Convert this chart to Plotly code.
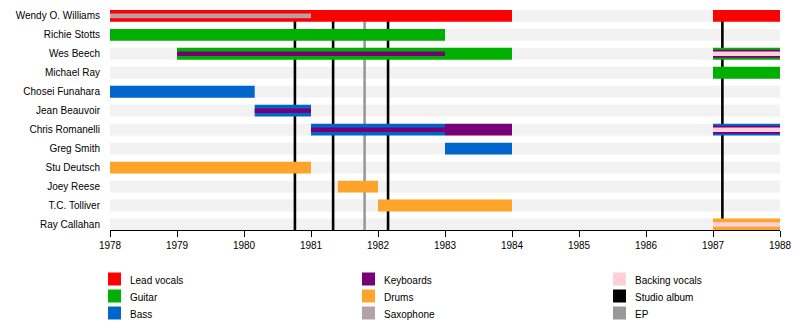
import plotly.graph_objects as go

# Band members, top to bottom
members = [
    "Wendy O. Williams", "Richie Stotts", "Wes Beech", "Michael Ray",
    "Chosei Funahara", "Jean Beauvoir", "Chris Romanelli", "Greg Smith",
    "Stu Deutsch", "Joey Reese", "T.C. Tolliver", "Ray Callahan",
]

# Membership periods (tier 0 = main role, 1 = secondary, 2 = tertiary)
period_member = [
    "Wendy O. Williams", "Wendy O. Williams", "Wendy O. Williams",
    "Richie Stotts",
    "Wes Beech", "Wes Beech", "Wes Beech", "Wes Beech", "Wes Beech",
    "Michael Ray",
    "Chosei Funahara",
    "Jean Beauvoir", "Jean Beauvoir",
    "Chris Romanelli", "Chris Romanelli", "Chris Romanelli",
    "Chris Romanelli", "Chris Romanelli", "Chris Romanelli",
    "Greg Smith",
    "Stu Deutsch", "Joey Reese", "T.C. Tolliver",
    "Ray Callahan", "Ray Callahan",
]
period_role = [
    "Lead vocals", "Lead vocals", "Saxophone",
    "Guitar",
    "Guitar", "Keyboards", "Guitar", "Keyboards", "Backing vocals",
    "Guitar",
    "Bass",
    "Bass", "Keyboards",
    "Bass", "Keyboards", "Keyboards",
    "Bass", "Keyboards", "Backing vocals",
    "Bass",
    "Drums", "Drums", "Drums",
    "Drums", "Backing vocals",
]
period_start = [
    1978, 1987, 1978,
    1978,
    1979, 1979, 1987, 1987, 1987,
    1987,
    1978,
    1980.16, 1980.16,
    1981, 1981, 1983,
    1987, 1987, 1987,
    1983,
    1978, 1981.4, 1982,
    1987, 1987,
]
period_end = [
    1984, 1988, 1981,
    1983,
    1984, 1983, 1988, 1988, 1988,
    1988,
    1980.16,
    1981, 1981,
    1983, 1983, 1984,
    1988, 1988, 1988,
    1984,
    1981, 1982, 1984,
    1988, 1988,
]
period_tier = [
    0, 0, 2,
    0,
    0, 2, 0, 1, 2,
    0,
    0,
    0, 2,
    0, 2, 0,
    0, 1, 2,
    0,
    0, 0, 0,
    0, 2,
]

# Release dates
studio_albums = [1980.76, 1981.33, 1982.15, 1987.14]
eps = [1981.80]

year_start, year_end = 1978, 1988
years = list(range(year_start, year_end + 1))

# Legend columns
legend_columns = [
    ["Lead vocals", "Guitar", "Bass"],
    ["Keyboards", "Drums", "Saxophone"],
    ["Backing vocals", "Studio album", "EP"],
]

colors = {
    "Lead vocals": "#ff0000",
    "Guitar": "#00b000",
    "Bass": "#0066cc",
    "Keyboards": "#760077",
    "Drums": "#ffa42a",
    "Saxophone": "#b3a3a8",
    "Backing vocals": "#ffd0d8",
    "Studio album": "#000000",
    "EP": "#999999",
}

# Figure geometry (pixels)
W, H = 800, 330
ML, MR, MT, MB = 110, 20, 6, 100
plot_w, plot_h = W - ML - MR, H - MT - MB

tier_width = [0.625, 0.42, 0.24]
band_half = tier_width[0] / 2
y_top, y_bottom = -0.52, len(members) - 1 + 0.29

fig = go.Figure()

for tier in range(3):
    for role in ["Lead vocals", "Guitar", "Bass", "Keyboards", "Drums",
                 "Saxophone", "Backing vocals"]:
        idx = [i for i in range(len(period_member))
               if period_tier[i] == tier and period_role[i] == role]
        if not idx:
            continue
        fig.add_trace(go.Bar(
            orientation="h",
            y=[period_member[i] for i in idx],
            base=[period_start[i] for i in idx],
            x=[period_end[i] - period_start[i] for i in idx],
            width=[tier_width[tier]] * len(idx),
            marker=dict(color=colors[role], line=dict(width=0)),
            name=role,
            showlegend=False,
            hoverinfo="skip",
        ))

# Light row bands behind each member
for i in range(len(members)):
    fig.add_shape(type="rect", xref="x", yref="y",
                  x0=year_start, x1=year_end,
                  y0=i - band_half, y1=i + band_half,
                  fillcolor="#f2f2f2", line=dict(width=0), layer="below")

# Release lines
for d in studio_albums:
    fig.add_shape(type="line", xref="x", yref="y", x0=d, x1=d,
                  y0=0, y1=y_bottom,
                  line=dict(color=colors["Studio album"], width=2.6),
                  layer="below")
for d in eps:
    fig.add_shape(type="line", xref="x", yref="y", x0=d, x1=d,
                  y0=0, y1=y_bottom,
                  line=dict(color=colors["EP"], width=2.6),
                  layer="below")

font = "Liberation Sans, Arial, sans-serif"


def px_x(px):
    return (px - ML) / plot_w


def px_y(py):
    return (H - MB - py) / plot_h


# Three-column legend under the chart
col_left = [108, 362, 613]
row_mid = [279, 296, 313]
sw = 13
for c, labels in enumerate(legend_columns):
    for r, label in enumerate(labels):
        x0 = col_left[c]
        yc = row_mid[r]
        fig.add_shape(type="rect", xref="paper", yref="paper",
                      x0=px_x(x0), x1=px_x(x0 + sw),
                      y0=px_y(yc + sw / 2), y1=px_y(yc - sw / 2),
                      fillcolor=colors[label], line=dict(width=0))
        fig.add_annotation(xref="paper", yref="paper",
                           x=px_x(x0 + 20), y=px_y(yc + 1),
                           xanchor="left", yanchor="middle",
                           text=label, showarrow=False,
                           font=dict(family=font, size=10, color="#000000"))

fig.update_layout(
    width=W, height=H,
    margin=dict(l=ML, r=MR, t=MT, b=MB),
    paper_bgcolor="white", plot_bgcolor="white",
    barmode="overlay",
    font=dict(family=font, size=10, color="#000000"),
    showlegend=False,
    xaxis=dict(
        range=[year_start, year_end],
        tickvals=years, ticktext=[str(y) for y in years],
        showgrid=False, zeroline=False,
        showline=True, linecolor="#000000", linewidth=1,
        ticks="outside", ticklen=6, tickcolor="#000000", tickwidth=1,
        tickfont=dict(family=font, size=10, color="#000000"),
    ),
    yaxis=dict(
        type="category", categoryorder="array", categoryarray=members,
        range=[y_bottom, y_top], autorange=False,
        showgrid=False, zeroline=False, showline=False, ticks="",
        ticklabelstandoff=9,
        tickfont=dict(family=font, size=10, color="#000000"),
    ),
)

fig.write_html("out.html")
